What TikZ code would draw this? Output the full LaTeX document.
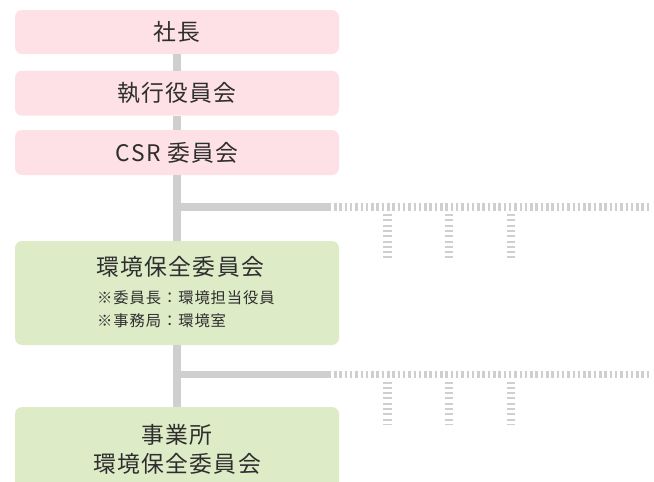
\documentclass[tikz,border=0pt]{standalone}
\usepackage{fontspec}
\newfontfamily\jp{Noto Sans CJK JP}[LetterSpace=6]
\definecolor{pinkc}{HTML}{FDE1E6}
\definecolor{greenc}{HTML}{DDEBC7}
\definecolor{linec}{HTML}{CFCFCF}
\definecolor{txt}{HTML}{2E2E2E}
\begin{document}
\begin{tikzpicture}[x=1pt,y=-1pt,
  boxbase/.style={rounded corners=7pt, minimum width=324pt, inner sep=0pt, draw=none},
  pinkbox/.style={boxbase, fill=pinkc},
  greenbox/.style={boxbase, fill=greenc},
  bigtext/.style={text=txt, inner sep=0pt, font=\fontsize{22.8}{22.8}\jp},
  smalltext/.style={text=txt, inner sep=0pt, font=\fontsize{15.3}{15.3}\jp},
  trunk/.style={draw=linec, line width=8pt},
  branch/.style={draw=linec, line width=7.5pt},
  hstripes/.style={draw=linec, line width=7.5pt, dash pattern=on 2.5pt off 2.8pt},
  vstripes/.style={draw=linec, line width=8.5pt, dash pattern=on 2pt off 3.3pt}]
\useasboundingbox (0,0) rectangle (654,482);
\clip (0,0) rectangle (654,482);
% boxes
\node[pinkbox, minimum height=44pt] (b1) at (177,32) {};
\node[pinkbox, minimum height=45pt] (b2) at (177,93.2) {};
\node[pinkbox, minimum height=45pt] (b3) at (177,152.5) {};
\node[greenbox, minimum height=104pt] (b4) at (177,293) {};
\node[greenbox, minimum height=100pt] (b5) at (177,457) {};
% trunk
\draw[trunk] (b1.south) -- (b2.north);
\draw[trunk] (b2.south) -- (b3.north);
\draw[trunk] (b3.south) -- (b4.north);
\draw[trunk] (b4.south) -- (b5.north);
% branch 1
\coordinate (j1) at (177,207);
\coordinate (s1) at (331,207);
\coordinate (e1) at (649,207);
\draw[branch] (j1) -- (s1);
\draw[hstripes] ([xshift=3pt]s1) -- (e1);
\coordinate (v1a) at (387.5,214);
\coordinate (v1b) at (387.5,258);
\coordinate (v2a) at (449,214);
\coordinate (v2b) at (449,258);
\coordinate (v3a) at (511,214);
\coordinate (v3b) at (511,258);
\draw[vstripes] (v1a) -- (v1b);
\draw[vstripes] (v2a) -- (v2b);
\draw[vstripes] (v3a) -- (v3b);
% branch 2
\coordinate (j2) at (177,374.5);
\coordinate (s2) at (331,374.5);
\coordinate (e2) at (649,374.5);
\draw[branch] (j2) -- (s2);
\draw[hstripes] ([xshift=3pt]s2) -- (e2);
\coordinate (w1a) at (387.5,381.5);
\coordinate (w1b) at (387.5,425);
\coordinate (w2a) at (449,381.5);
\coordinate (w2b) at (449,425);
\coordinate (w3a) at (511,381.5);
\coordinate (w3b) at (511,425);
\draw[vstripes] (w1a) -- (w1b);
\draw[vstripes] (w2a) -- (w2b);
\draw[vstripes] (w3a) -- (w3b);
% texts
\node[bigtext] (t1) at (b1.center) {社長};
\node[bigtext] (t2) at (b2.center) {執行役員会};
\node[bigtext] (t3) at (b3.center) {CSR 委員会};
\node[bigtext, anchor=west] (t4) at (96,267) {環境保全委員会};
\node[smalltext, anchor=west] (t4a) at (97,298) {※委員長：環境担当役員};
\node[smalltext, anchor=west] (t4b) at (97,320.5) {※事務局：環境室};
\node[bigtext] (t5a) at (177,434.5) {事業所};
\node[bigtext] (t5b) at (177,464) {環境保全委員会};
\end{tikzpicture}
\end{document}
